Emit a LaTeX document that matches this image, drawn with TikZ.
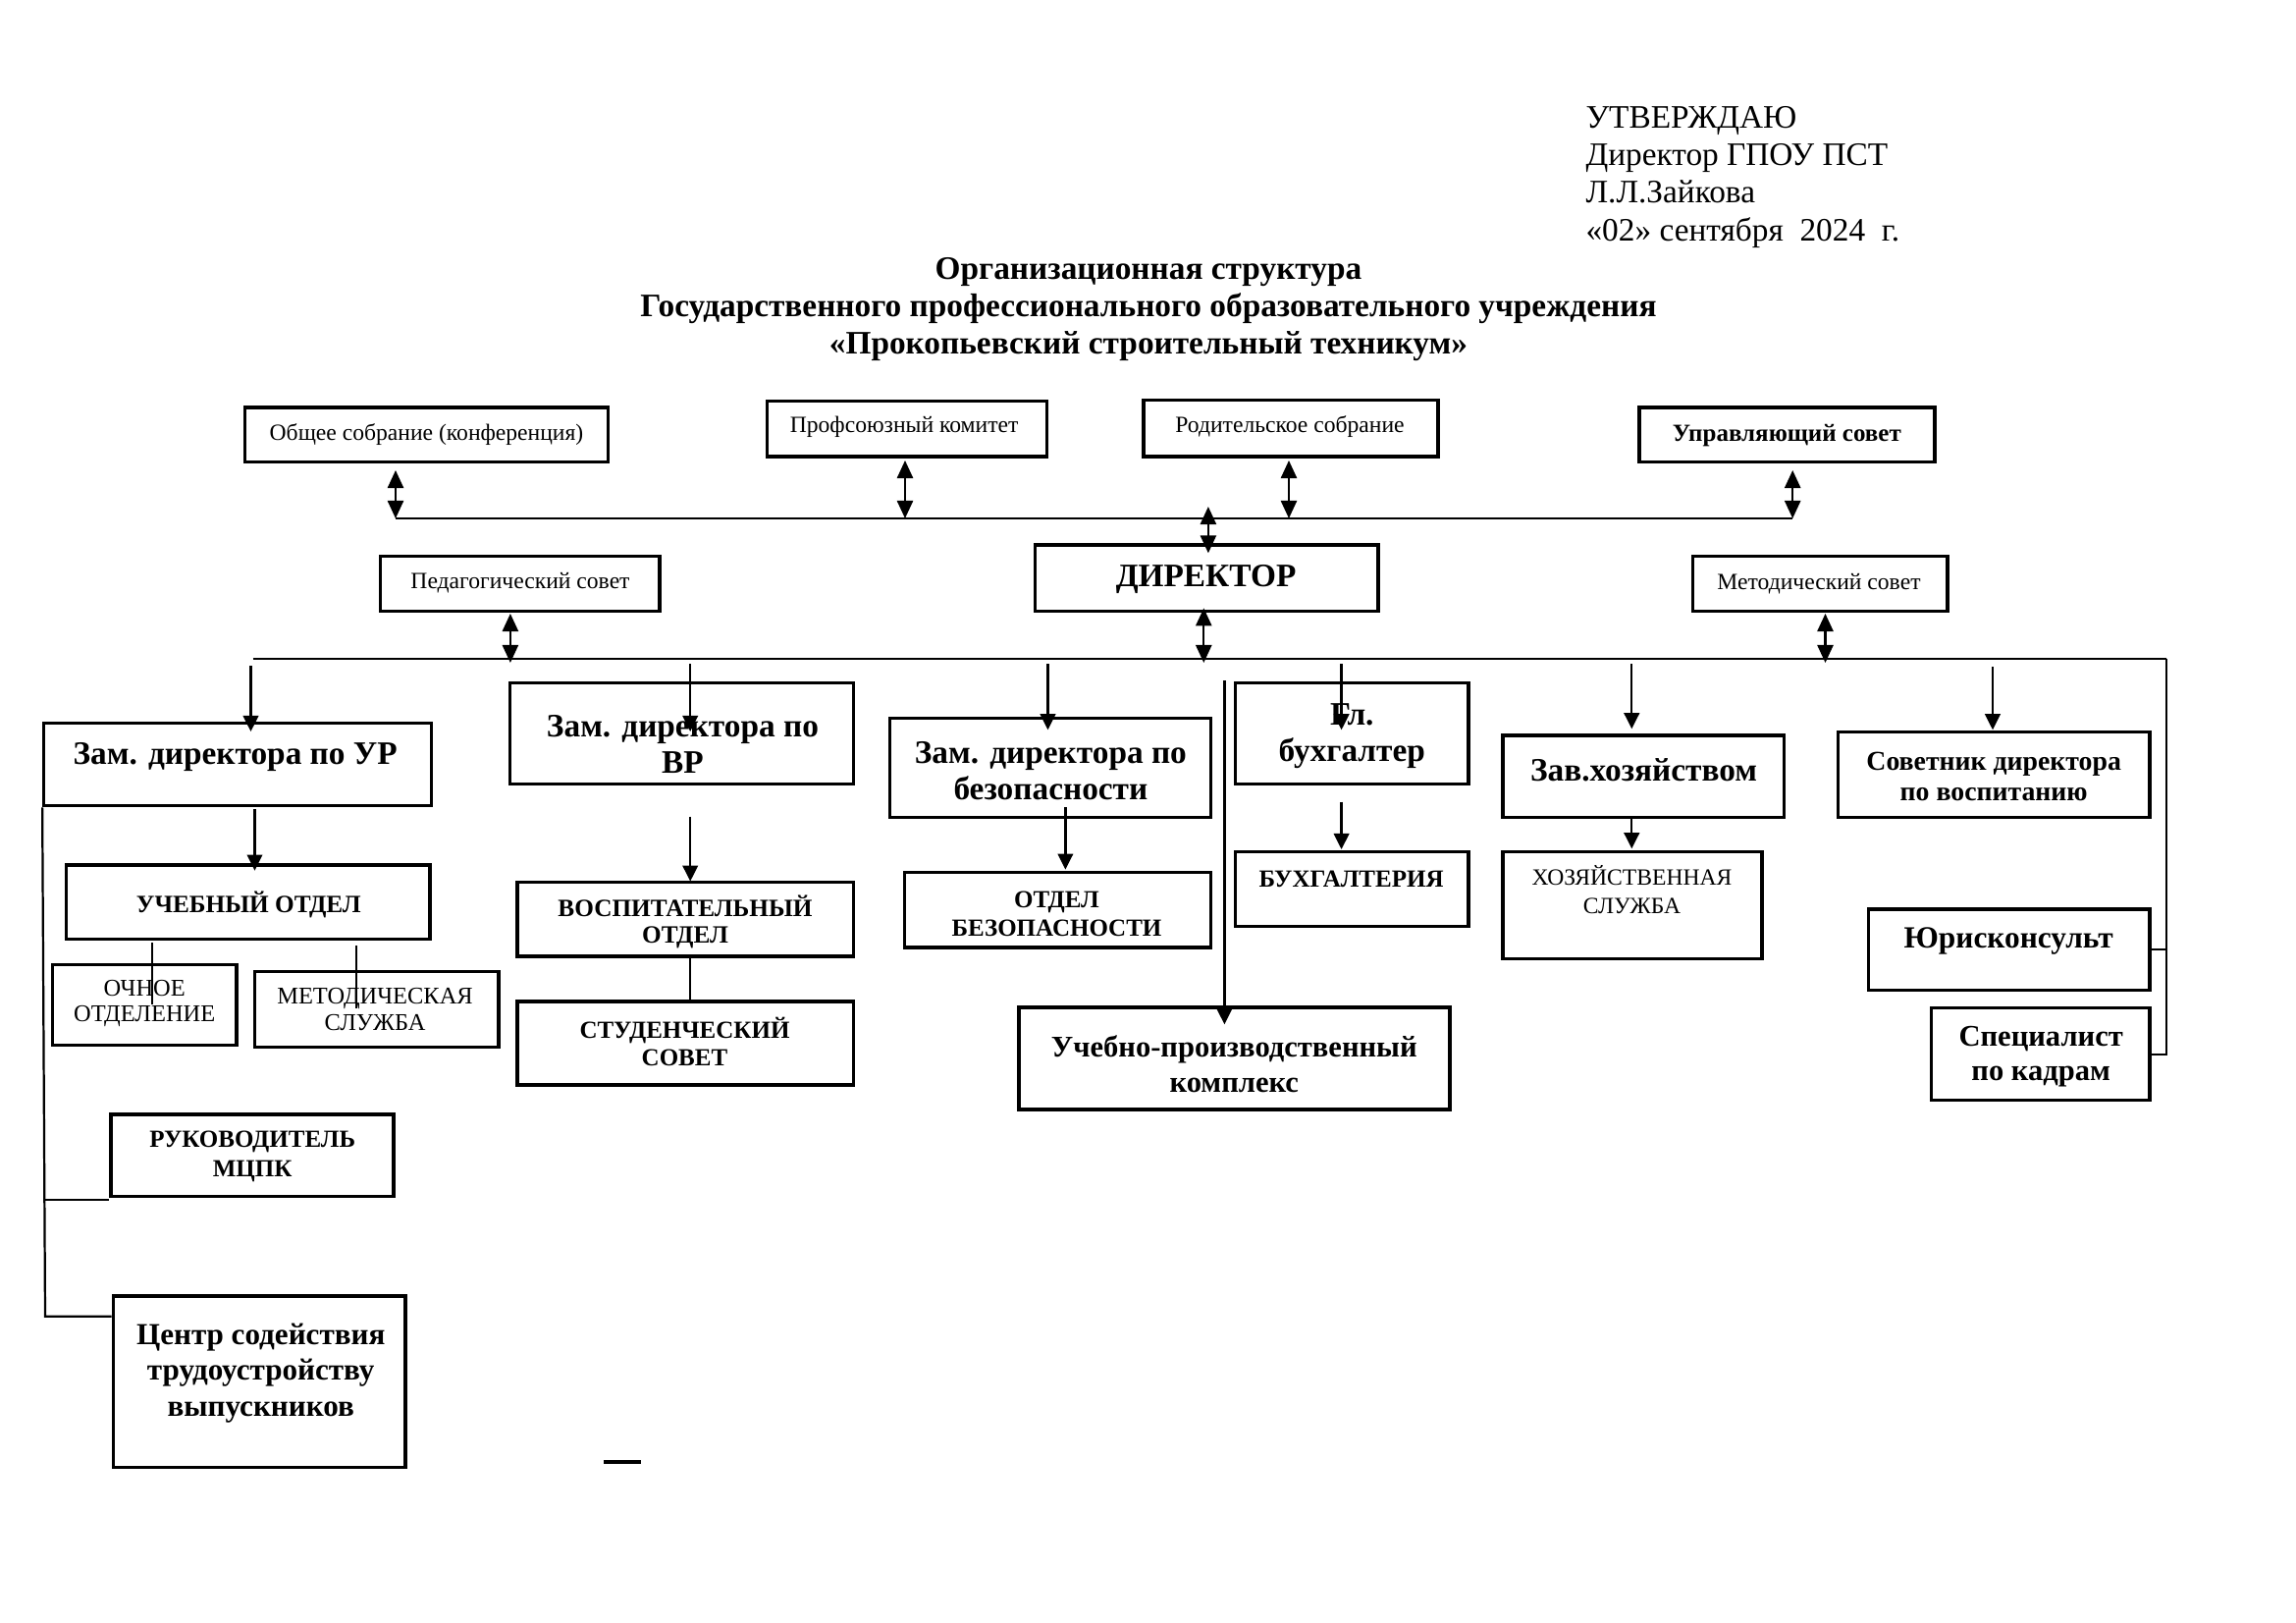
\documentclass[tikz,border=0pt]{standalone}
\usepackage{fontspec}
\setmainfont{Liberation Serif}
\usetikzlibrary{arrows.meta,calc}
\newcommand\fs[2]{\fontsize{#1}{#2}\selectfont}
\newcommand\bx[5]{\node[box, minimum width={(#4-#2)*0.36pt}, minimum height={(#5-#3)*0.36pt}] (#1) at ({(#2+#4)/2},{(#3+#5)/2}) {};}
\tikzset{
  box/.style={draw, line width=1.2pt, inner sep=0pt, rectangle},
  txt/.style={inner sep=0pt, align=center},
  ln/.style={line width=0.8pt},
  arr/.style={ln, -{Triangle[length=5.8pt,width=5.6pt]}},
  dbl/.style={ln, {Triangle[length=6.5pt,width=5.8pt]}-{Triangle[length=6.5pt,width=5.8pt]}},
}
\begin{document}
\begin{tikzpicture}[x=0.36pt,y=-0.36pt]
\useasboundingbox (0,0) rectangle (2339,1653);

% approval block
\node[anchor=base west, inner sep=0pt, font=\fs{12}{14}] (ap1) at (1615,130) {УТВЕРЖДАЮ};
\node[anchor=base west, inner sep=0pt, font=\fs{12}{14}] (ap2) at (1615,168.3) {Директор ГПОУ ПСТ};
\node[anchor=base west, inner sep=0pt, font=\fs{12}{14}] (ap3) at (1615,206) {Л.Л.Зайкова};
\node[anchor=base west, inner sep=0pt, font=\fs{12}{14}] (ap4) at (1615,245) {«02» сентября\ \ 2024\ \ г.};

% title
\node[anchor=base, inner sep=0pt, font=\bfseries\fs{12}{14}] (t1) at (1170,284.5) {Организационная структура};
\node[anchor=base, inner sep=0pt, font=\bfseries\fs{12}{14}] (t2) at (1170,322.5) {Государственного профессионального образовательного учреждения};
\node[anchor=base, inner sep=0pt, font=\bfseries\fs{12}{14}] (t3) at (1170,360.5) {«Прокопьевский строительный техникум»};

% top row
\bx{obsh}{249.5}{415}{619.4}{470.7}
\node[txt, font=\fs{8.5}{10}] (obsh-t) at (434.5,442.7) {Общее собрание (конференция)};
\bx{prof}{781.6}{408.3}{1066.6}{465}
\node[txt, font=\fs{8.5}{10}] (prof-t) at (921.1,434.5) {Профсоюзный комитет};
\bx{rod}{1164.9}{407.7}{1465.1}{465}
\node[txt, font=\fs{8.5}{10}] (rod-t) at (1314,434.5) {Родительское собрание};
\bx{upr}{1670}{415}{1970.9}{470.7}
\node[txt, font=\bfseries\fs{9}{11}] (upr-t) at (1820.4,443.3) {Управляющий совет};

\bx{ped}{387.8}{566.7}{672}{622.7}
\node[txt, font=\fs{8.5}{10}] (ped-t) at (530,594) {Педагогический совет};
\bx{dir}{1054.6}{555}{1404}{622.7}
\node[txt, font=\bfseries\fs{12}{14}] (dir-t) at (1228.6,590) {ДИРЕКТОР};
\bx{met}{1724.6}{566.7}{1984}{622.7}
\node[txt, font=\fs{8.5}{10}] (met-t) at (1853,594.5) {Методический совет};

% level 2
\bx{ur}{44.8}{736.7}{439.2}{820.7}
\node[txt, font=\bfseries\fs{12}{13.2}] (ur-t) at (239.7,771) {Зам. директора по УР};
\bx{vr}{519.5}{695.7}{869.7}{798.3}
\node[txt, font=\bfseries\fs{12}{13.2}] (vr-t) at (695.5,758) {Зам. директора по\\ВР};
\bx{bez}{906.8}{731.7}{1233.6}{832.7}
\node[txt, font=\bfseries\fs{12}{13.2}] (bez-t) at (1070.4,785) {Зам. директора по\\безопасности};
\bx{gb}{1258.6}{695.7}{1496}{798.3}
\node[txt, font=\bfseries\fs{12}{13.2}] (gb-t) at (1377.3,750) {Гл.\\бухгалтер};
\bx{zav}{1531}{749}{1817.7}{832.7}
\node[txt, font=\bfseries\fs{12}{13.2}] (zav-t) at (1674.6,784) {Зав.хозяйством};
\bx{sov}{1872.3}{745.7}{2190}{832.3}
\node[txt, font=\bfseries\fs{10}{11.2}] (sov-t) at (2031.2,791) {Советник директора\\по воспитанию};

% level 3
\bx{uo}{67.2}{881}{438}{956.7}
\node[txt, font=\bfseries\fs{9.1}{10}] (uo-t) at (253.4,921.7) {УЧЕБНЫЙ ОТДЕЛ};
\bx{vo}{527}{898.3}{869.7}{974}
\node[txt, font=\bfseries\fs{9.1}{10}] (vo-t) at (698,939) {ВОСПИТАТЕЛЬНЫЙ\\ОТДЕЛ};
\bx{ob}{921.5}{888.3}{1233.6}{965}
\node[txt, font=\bfseries\fs{9}{10.2}] (ob-t) at (1076.5,931) {ОТДЕЛ\\БЕЗОПАСНОСТИ};
\bx{bu}{1258.6}{867.3}{1496}{943.3}
\node[txt, font=\bfseries\fs{9}{10}] (bu-t) at (1376.6,895) {БУХГАЛТЕРИЯ};
\bx{hs}{1531}{867.3}{1795}{976.7}
\node[txt, font=\fs{8.5}{10.2}] (hs-t) at (1662.5,906) {ХОЗЯЙСТВЕННАЯ\\СЛУЖБА};
\bx{yur}{1903.3}{926}{2190}{1008.3}
\node[txt, font=\bfseries\fs{11.3}{13.2}] (yur-t) at (2046.2,958) {Юрисконсульт};
\bx{spec}{1967.3}{1026.7}{2190}{1120.7}
\node[txt, font=\bfseries\fs{11}{12.8}] (spec-t) at (2079.2,1076) {Специалист\\по кадрам};

% level 4
\bx{och}{53.4}{982.7}{241.1}{1064.3}
\node[txt, font=\fs{8.8}{9.6}] (och-t) at (147.2,1022) {ОЧНОЕ\\ОТДЕЛЕНИЕ};
\bx{ms}{259.5}{989.3}{508}{1066.7}
\node[txt, font=\fs{8.8}{9.6}] (ms-t) at (382,1028) {МЕТОДИЧЕСКАЯ\\СЛУЖБА};
\bx{ss}{527}{1020}{869.7}{1105}
\node[txt, font=\bfseries\fs{9}{10.2}] (ss-t) at (697.5,1061) {СТУДЕНЧЕСКИЙ\\СОВЕТ};
\bx{upk}{1037.9}{1026}{1477}{1130}
\node[txt, font=\bfseries\fs{11}{12.9}] (upk-t) at (1257.3,1083.5) {Учебно-производственный\\комплекс};
\bx{mc}{113}{1135}{400.9}{1218.3}
\node[txt, font=\bfseries\fs{9}{10.6}] (mc-t) at (257.2,1178) {РУКОВОДИТЕЛЬ\\МЦПК};
\bx{cs}{115.2}{1320}{413}{1494.3}
\node[txt, font=\bfseries\fs{11.2}{13.2}] (cs-t) at (265.7,1398.5) {Центр содействия\\трудоустройству\\выпускников};

% top bus
\coordinate (b1a) at (403,528);
\coordinate (b1b) at (922,528);
\coordinate (b1c) at (1313,528);
\coordinate (b1d) at (1826.2,528);
\draw[ln] (b1a) -- (b1d);
\draw[dbl] ($(obsh.south -| b1a)+(0,6.6)$) -- (b1a);
\draw[dbl] ($(prof.south -| b1b)+(0,2.3)$) -- (b1b);
\draw[dbl] ($(rod.south -| b1c)+(0,2.3)$) -- (b1c);
\draw[dbl] ($(upr.south -| b1d)+(0,6.6)$) -- (b1d);
\coordinate (dtop) at (1230.9,516);
\draw[dbl] (dtop) -- ($(dtop |- dir.north)+(0,10)$);

% second bus
\coordinate (b2L) at (257.7,670.7);
\coordinate (b2R) at (2207.3,670.7);
\draw[ln] (b2L) -- (b2R);
\coordinate (b2dir) at (1226.3,675);
\coordinate (b2ped) at (519.9,675);
\coordinate (b2met) at (1859.5,675);
\draw[dbl] ($(b2dir |- dir.south)+(0,-5)$) -- (b2dir);
\draw[dbl] ($(ped.south -| b2ped)+(0,0.6)$) -- (b2ped);
\draw[dbl] ($(met.south -| b2met)+(0,0.6)$) -- (b2met);

% down arrows from second bus
\coordinate (s1) at (255.5,678.3);
\coordinate (s2) at (703.2,676);
\coordinate (s3) at (1067.5,676);
\coordinate (s4) at (1366.6,676);
\coordinate (s5) at (1662.3,676);
\coordinate (s6) at (2030,679.3);
\coordinate (s7) at (1247.4,693.3);
\draw[arr] (s1) -- ($(s1 |- ur.north)+(0,10)$);
\draw[arr] (s2) -- ($(s2 |- vr.north)+(0,51)$);
\draw[arr] (s3) -- ($(s3 |- bez.north)+(0,13.3)$);
\draw[arr] (s4) -- ($(s4 |- gb.north)+(0,49.3)$);
\draw[arr] (s5) -- ($(s5 |- zav.north)+(0,-5)$);
\draw[arr] (s6) -- ($(s6 |- sov.north)+(0,-0.7)$);
\draw[arr] (s7) -- ($(s7 |- upk.north)+(0,19)$);

% right side
\draw[ln] (b2R) -- (b2R |- spec.east) -- (spec.east);
\draw[ln] (yur.east) -- (yur.east -| b2R);

% level 3 arrows
\coordinate (u1) at (259.5,824);
\coordinate (v1) at (703.2,831.7);
\coordinate (z1) at (1085.4,822.3);
\coordinate (g1) at (1366.6,816.7);
\coordinate (h1) at (1662.3,832.7);
\draw[arr] (u1) -- ($(u1 |- uo.north)+(0,7.3)$);
\draw[arr] (v1) -- ($(v1 |- vo.north)+(0,1)$);
\draw[arr] (z1) -- ($(z1 |- ob.north)+(0,-1)$);
\draw[arr] (g1) -- ($(g1 |- bu.north)+(0,-0.6)$);
\draw[arr] (h1 |- zav.south) -- ($(h1 |- hs.north)+(0,-1.3)$);

% plain lines
\coordinate (o1) at (155,960);
\coordinate (o2) at (155,1023.3);
\coordinate (m1) at (362.8,963.3);
\coordinate (m2) at (362.8,1026.7);
\draw[ln] (o1) -- (o2);
\draw[ln] (m1) -- (m2);
\draw[ln] (vo.south -| s2) -- (ss.north -| s2);

% left vertical
\coordinate (lm) at (46,1221.7);
\coordinate (lb) at (46,1340.7);
\draw[ln] (ur.south west) -- (lb) -- (lb -| cs.west);
\draw[ln] (lm) -- (lm -| mc.west);

% stray dash
\coordinate (da) at (615.2,1489.3);
\coordinate (db) at (652.7,1489.3);
\draw[line width=1.4pt] (da) -- (db);
\end{tikzpicture}
\end{document}
